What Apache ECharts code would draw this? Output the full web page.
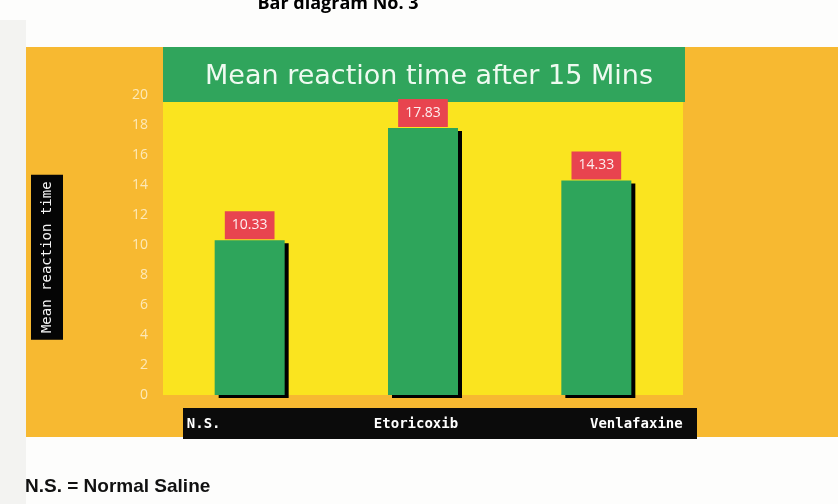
<!DOCTYPE html>
<html>
<head>
<meta charset="utf-8">
<script src="https://cdn.jsdelivr.net/npm/echarts@6/dist/echarts.min.js"></script>
<style>
  html, body { margin: 0; padding: 0; background: #fdfdfc; }
  #bar_chart { width: 838px; height: 504px; }
</style>
</head>
<body>
<div id="bar_chart"></div>
<script>
    // values
    let groups = ['N.S.', 'Etoricoxib', 'Venlafaxine'];
    let meanTime = [10.33, 17.83, 14.33];
    let yTicks = [0, 2, 4, 6, 8, 10, 12, 14, 16, 18, 20];

    let chart = echarts.init(document.getElementById('bar_chart'));

    let orange = '#f7b931';
    let yellow = '#fae41f';
    let green = '#2ea55b';
    let red = '#e8444f';

    // x labels are not centred on the bars in the original, nudge them with padding
    let labelPad = [[0, 92, 0, 0], [0, 14, 0, 0], [0, 0, 0, 80]];

    let option = {
        animation: false,
        title: [{
            text: 'Bar diagram No. 3',
            left: 333,
            textAlign: 'center',
            top: -10,
            textStyle: {
                color: '#000',
                fontFamily: 'Open Sans',
                fontWeight: 'bold',
                fontSize: 18
            }
        }, {
            text: 'Mean reaction time after 15 Mins',
            left: 424,
            textAlign: 'center',
            top: 58,
            textStyle: {
                color: '#eefaf0',
                fontFamily: 'DejaVu Sans',
                fontWeight: 'normal',
                fontSize: 27
            }
        }],
        graphic: [
            { type: 'rect', z: 0, shape: { x: 0, y: 20, width: 26, height: 484 }, style: { fill: '#f3f3f1' } },
            { type: 'rect', z: 0, shape: { x: 26, y: 47, width: 812, height: 390 }, style: { fill: orange } },
            { type: 'rect', z: 0, shape: { x: 163, y: 95, width: 520, height: 300 }, style: { fill: yellow } },
            { type: 'rect', z: 1, shape: { x: 163, y: 47, width: 522, height: 55 }, style: { fill: '#30a55c' } },
            { type: 'rect', z: 1, shape: { x: 183, y: 408, width: 514, height: 31 }, style: { fill: '#0b0b0b' } },
            {
                type: 'text', z: 1, left: 25, top: 477,
                style: {
                    text: 'N.S. = Normal Saline',
                    fill: '#111',
                    font: 'bold 19px "Liberation Sans", Arial, sans-serif'
                }
            }
        ],
        grid: {
            left: 163,
            right: 155,
            top: 95.5,
            bottom: 109,
            containLabel: false,
            outerBoundsMode: 'none'
        },
        xAxis: {
            type: 'category',
            z: 5,
            data: groups.map((g, i) => ({
                value: g,
                textStyle: { padding: labelPad[i] }
            })),
            axisLine: { show: false },
            axisTick: { show: false },
            splitLine: { show: false },
            axisLabel: {
                margin: 22,
                color: '#ffffff',
                fontFamily: 'DejaVu Sans Mono',
                fontWeight: 'bold',
                fontSize: 14
            }
        },
        yAxis: {
            type: 'value',
            z: 5,
            min: yTicks[0],
            max: yTicks[yTicks.length - 1],
            interval: 2,
            axisLine: { show: false },
            axisTick: { show: false },
            splitLine: { show: false },
            axisLabel: {
                margin: 15,
                color: '#fde9b8',
                fontFamily: 'Open Sans',
                fontSize: 14
            },
            name: '{a|Mean reaction time}{s|}',
            nameLocation: 'middle',
            nameRotate: 90,
            nameGap: 100,
            nameTextStyle: {
                rich: {
                    a: {
                        backgroundColor: '#050505',
                        color: '#f4f4f4',
                        fontFamily: 'DejaVu Sans Mono',
                        fontSize: 14,
                        width: 165,
                        height: 32,
                        align: 'center'
                    },
                    s: { width: 24 }
                }
            }
        },
        series: [{
            name: 'Mean reaction time',
            type: 'bar',
            z: 3,
            barWidth: 70,
            data: meanTime,
            itemStyle: {
                color: green,
                shadowColor: '#000',
                shadowBlur: 0,
                shadowOffsetX: 4,
                shadowOffsetY: 3
            },
            label: {
                show: true,
                position: 'top',
                distance: 1,
                formatter: p => p.value.toFixed(2),
                backgroundColor: red,
                color: '#fdeef0',
                fontFamily: 'Open Sans',
                fontSize: 14,
                padding: [7, 7, 7, 7]
            }
        }]
    };

    chart.setOption(option);
</script>
</body>
</html>
